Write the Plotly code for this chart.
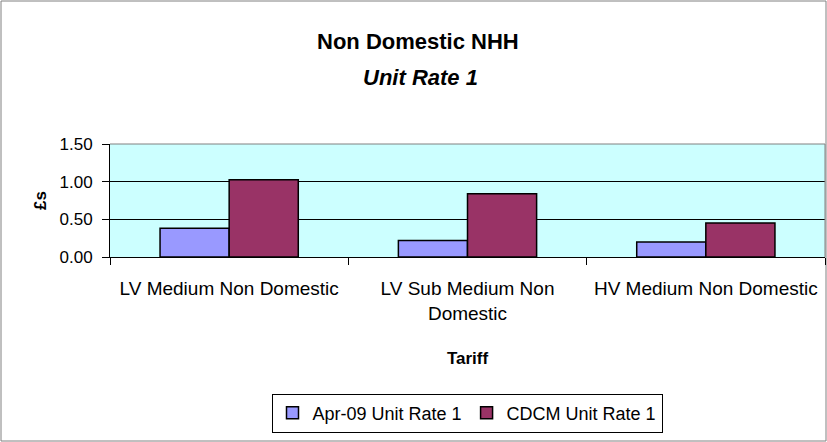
import plotly.graph_objects as go

categories = ["LV Medium Non Domestic", "LV Sub Medium Non<br>Domestic", "HV Medium Non Domestic"]
apr09 = [0.383, 0.219, 0.20]
cdcm = [1.024, 0.841, 0.45]
series_names = ["Apr-09 Unit Rate 1", "CDCM Unit Rate 1"]
yticks = [0.0, 0.5, 1.0, 1.5]
ytick_labels = ["0.00", "0.50", "1.00", "1.50"]

W, H = 827, 442
L, R, T, B = 110, 2, 144, 185
pw = W - L - R
ph = H - T - B

fig = go.Figure()
fig.add_bar(x=categories, y=apr09, name=series_names[0],
            marker=dict(color="#9999FF", line=dict(color="black", width=1.5)))
fig.add_bar(x=categories, y=cdcm, name=series_names[1],
            marker=dict(color="#993366", line=dict(color="black", width=1.5)))

def px_x(px):
    return (px - L) / pw

def px_y(py):
    return (H - B - py) / ph

fig.update_layout(
    width=W, height=H,
    margin=dict(l=L, r=R, t=T, b=B),
    paper_bgcolor="white",
    plot_bgcolor="#CCFFFF",
    barmode="group",
    bargap=0.42,
    bargroupgap=0,
    font=dict(family="Liberation Sans, Arial", size=18, color="black"),
    showlegend=True,
    legend=dict(orientation="h", x=px_x(467), xanchor="center", y=px_y(413), yanchor="middle",
                bordercolor="black", borderwidth=1, bgcolor="white",
                font=dict(size=18), itemwidth=30, traceorder="normal"),
    xaxis=dict(showline=True, linecolor="black", linewidth=1, ticks="outside",
               tickson="boundaries", ticklen=7, tickcolor="black",
               tickfont=dict(size=19), mirror=False, ticklabelstandoff=14,
               title=dict(text="<b>Tariff</b>", font=dict(size=17), standoff=29)),
    yaxis=dict(range=[0, 1.5], tickvals=yticks, ticktext=ytick_labels,
               showline=True, linecolor="black", linewidth=1, ticks="outside",
               ticklen=7, tickcolor="black", gridcolor="black", gridwidth=1,
               tickfont=dict(size=17), zeroline=False, ticklabelstandoff=6,
               title=dict(text="<b>£s</b>", font=dict(size=17), standoff=8)),
    annotations=[
        dict(text="<b>Non Domestic NHH</b>", x=px_x(418), y=px_y(42), xref="paper", yref="paper",
             showarrow=False, font=dict(size=22), yanchor="middle"),
        dict(text="<b><i>Unit Rate 1</i></b>", x=px_x(420), y=px_y(77), xref="paper", yref="paper",
             showarrow=False, font=dict(size=22), yanchor="middle"),
    ],
    shapes=[
        dict(type="rect", xref="paper", yref="paper",
             x0=px_x(1), x1=px_x(826), y0=px_y(441), y1=px_y(1),
             line=dict(color="#808080", width=1), layer="below"),
        dict(type="line", xref="paper", yref="paper", x0=1, x1=1, y0=0, y1=1,
             line=dict(color="#808080", width=1)),
        dict(type="line", xref="paper", yref="paper", x0=0, x1=1, y0=1, y1=1,
             line=dict(color="#808080", width=1)),
    ],
)

fig.write_html("out.html", config={"displayModeBar": False},
               post_script="document.body.style.margin='0';")
